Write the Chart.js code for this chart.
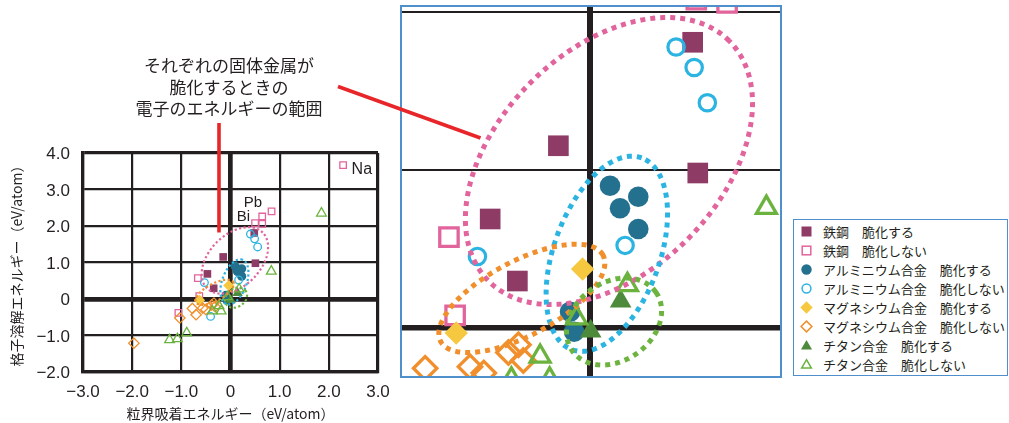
<!DOCTYPE html>
<html lang="ja">
<head>
<meta charset="utf-8">
<script src="https://cdn.jsdelivr.net/npm/chart.js@4.4.1/dist/chart.umd.min.js"></script>
<style>
  html, body { margin: 0; padding: 0; background: #fff; }
  #page { position: relative; width: 1009px; height: 423px; overflow: hidden;
          font-family: "Noto Sans CJK JP", "Noto Sans", sans-serif; color: #231f20; }
  #main { position: absolute; left: 0; top: 0; }
  #insetFrame { position: absolute; left: 400px; top: 5px; width: 378px; height: 369px;
                border: 2px solid #4f8fcc; }
  #inset { position: absolute; left: 0; top: 0; }
  #legend { position: absolute; left: 793px; top: 219px; width: 213px; height: 155px;
            border: 1.6px solid #4f8fcc; background: #fff; }
  .row { position: absolute; left: 0; height: 19px; width: 100%; }
  .row svg { position: absolute; left: 5px; top: 2px; }
  .row span { position: absolute; left: 29px; top: 0; font-size: 13px; line-height: 19px;
              white-space: pre; color: #231f20; }
  #note { position: absolute; left: 109px; top: 54px; width: 240px; text-align: center;
          font-size: 17px; line-height: 21.5px; color: #231f20; }
  #callouts { position: absolute; left: 0; top: 0; pointer-events: none; }
</style>
</head>
<body>
<div id="page">
  <canvas id="main" width="400" height="423"></canvas>
  <div id="insetFrame"><canvas id="inset" width="378" height="369"></canvas></div>
  <div id="legend"></div>
  <div id="note">それぞれの固体金属が<br>脆化するときの<br>電子のエネルギーの範囲</div>
  <svg id="callouts" width="1009" height="423">
    <line x1="219" y1="123" x2="219" y2="232.5" stroke="#e8262a" stroke-width="3.6"/>
    <line x1="338" y1="86.5" x2="480.5" y2="138" stroke="#e8262a" stroke-width="3.6"/>
  </svg>
</div>
<script>
// ---- series (x: 粒界吸着エネルギー, y: 格子溶解エネルギー, eV/atom) ----
const seriesNames = [
  '鉄鋼\u3000脆化する', '鉄鋼\u3000脆化しない',
  'アルミニウム合金\u3000脆化する', 'アルミニウム合金\u3000脆化しない',
  'マグネシウム合金\u3000脆化する', 'マグネシウム合金\u3000脆化しない',
  'チタン合金\u3000脆化する', 'チタン合金\u3000脆化しない'
];
const steelBrittle = [[0.483, 1.81], [-0.149, 1.153], [0.507, 0.98], [-0.47, 0.688], [-0.342, 0.294]];
const steelNonBrittle = [[-0.664, 0.573], [-0.635, 0.076], [-1.06, -0.38], [0.50, 2.08],
                         [0.645, 2.06], [0.645, 2.26], [0.835, 2.40], [2.29, 3.67]];
const aluminiumBrittle = [[0.094, 0.899], [0.227, 0.829], [0.141, 0.756], [0.227, 0.624],
                          [-0.094, 0.099], [-0.075, -0.028]];
const aluminiumNonBrittle = [[0.405, 1.78], [0.49, 1.65], [0.552, 1.426], [0.165, 0.52],
                             [-0.53, 0.45], [-0.405, -0.477]];
const magnesiumBrittle = [[-0.035, 0.37], [-0.63, -0.036]];
const magnesiumNonBrittle = [[-1.965, -1.21], [-1.03, -0.52], [-0.776, -0.26], [-0.70, -0.43],
                             [-0.565, -0.25], [-0.50, -0.29], [-0.384, -0.16], [-0.337, -0.11],
                             [-0.314, -0.21]];
const titaniumBrittle = [[0.144, 0.165], [0.003, -0.025]];
const titaniumNonBrittle = [[1.85, 2.35], [0.83, 0.76], [0.176, 0.27], [-0.063, 0.058],
                            [-0.235, -0.185], [-0.37, -0.33], [-0.19, -0.33], [-0.89, -0.93],
                            [-1.08, -1.09], [-1.24, -1.12]];
const seriesValues = [steelBrittle, steelNonBrittle, aluminiumBrittle, aluminiumNonBrittle,
                      magnesiumBrittle, magnesiumNonBrittle, titaniumBrittle, titaniumNonBrittle];

// element names attached to individual points
const pointNotes = [
  { text: 'Pb', series: 1, index: 5 },
  { text: 'Bi', series: 1, index: 3 },
  { text: 'Na', series: 1, index: 7 }
];

// embrittlement ranges: centre and two conjugate semi-diameters, in eV/atom
const rangeSteel = { center: [0.089, 1.056], u: [0.566, 0.763], v: [-0.369, 0.498] };
const rangeAluminium = { center: [0.079, 0.467], u: [0.164, 0.609], v: [-0.234, 0.115] };
const rangeMagnesium = { center: [-0.321, 0.184], u: [0.382, 0.274], v: [-0.082, 0.208] };
const rangeTitanium = { center: [0.113, 0.037], u: [0.197, 0.186], v: [-0.106, 0.204] };

// axes
const xAxisTicks = [-3, -2, -1, 0, 1, 2, 3];
const yAxisTicks = [-2, -1, 0, 1, 2, 3, 4];
const zoomX = [-0.885, 0.894];
const zoomY = [-0.309, 2.034];
const zoomGridX = [0];
const zoomGridY = [0, 1, 2];

// ---- styles ----
const INK = '#231f20';
const metalColors = {
  steel: ['#8e3b66', '#e2649d'],
  aluminium: ['#23708f', '#2bb4e2'],
  magnesium: ['#f6c83f', '#f08f2c'],
  titanium: ['#4d8a3b', '#6bb33e']
};
const seriesLook = [
  { shape: 'rect', filled: true, color: metalColors.steel[0] },
  { shape: 'rect', filled: false, color: metalColors.steel[1] },
  { shape: 'circle', filled: true, color: metalColors.aluminium[0] },
  { shape: 'circle', filled: false, color: metalColors.aluminium[1] },
  { shape: 'rectRot', filled: true, color: metalColors.magnesium[0] },
  { shape: 'rectRot', filled: false, color: metalColors.magnesium[1] },
  { shape: 'triangle', filled: true, color: metalColors.titanium[0] },
  { shape: 'triangle', filled: false, color: metalColors.titanium[1] }
];
const rangeLook = [
  [rangeSteel, metalColors.steel[1]],
  [rangeAluminium, metalColors.aluminium[1]],
  [rangeMagnesium, metalColors.magnesium[1]],
  [rangeTitanium, '#6db33f']
];
// marker radius / outline per shape, [filled, open]
const markerSizes = {
  overview: { rect: [[5.4, 0], [4.6, 1.3]], circle: [[4.6, 0], [3.8, 1.3]],
              rectRot: [[5.6, 0], [5.2, 1.3]], triangle: [[6.0, 0], [5.6, 1.3]] },
  detail:   { rect: [[14.6, 0], [13.0, 3.3]], circle: [[10.3, 0], [8.2, 3.2]],
              rectRot: [[11.7, 0], [11.7, 3.3]], triangle: [[12.5, 0], [11.5, 3.3]] }
};

function buildDatasets(sizeKey) {
  return seriesValues.map((vals, i) => {
    const look = seriesLook[i];
    const [r, bw] = markerSizes[sizeKey][look.shape][look.filled ? 0 : 1];
    return {
      label: seriesNames[i],
      data: vals.map(([x, y]) => ({ x, y })),
      pointStyle: look.shape,
      pointRadius: r,
      pointHoverRadius: r,
      pointBorderWidth: bw,
      pointBackgroundColor: look.filled ? look.color : 'rgba(0,0,0,0)',
      pointBorderColor: look.color,
      showLine: false,
      order: -i,
      clip: 0
    };
  });
}

const rangePlugin = {
  id: 'rangeOutlines',
  afterDatasetsDraw(chart, args, opts) {
    const { ctx, chartArea: a, scales: { x, y } } = chart;
    ctx.save();
    ctx.beginPath();
    ctx.rect(a.left, a.top, a.right - a.left, a.bottom - a.top);
    ctx.clip();
    ctx.lineWidth = opts.lineWidth;
    ctx.setLineDash(opts.dash);
    ctx.lineCap = 'butt';
    for (const [e, color] of rangeLook) {
      ctx.strokeStyle = color;
      ctx.beginPath();
      const n = 240;
      for (let k = 0; k <= n; k++) {
        const t = k / n * Math.PI * 2;
        const vx = e.center[0] + e.u[0] * Math.cos(t) + e.v[0] * Math.sin(t);
        const vy = e.center[1] + e.u[1] * Math.cos(t) + e.v[1] * Math.sin(t);
        const px = x.getPixelForValue(vx), py = y.getPixelForValue(vy);
        if (k === 0) ctx.moveTo(px, py); else ctx.lineTo(px, py);
      }
      ctx.stroke();
    }
    ctx.restore();
  }
};

const notePlugin = {
  id: 'pointNotes',
  afterDatasetsDraw(chart, args, opts) {
    if (!opts.enabled) return;
    const { ctx, scales: { x, y } } = chart;
    ctx.save();
    ctx.fillStyle = INK;
    ctx.textBaseline = 'middle';
    for (const n of pointNotes) {
      const [vx, vy] = seriesValues[n.series][n.index];
      const place = opts.place[n.text];
      ctx.font = place.size + 'px "Liberation Sans", Arial, sans-serif';
      ctx.textAlign = place.align;
      ctx.fillText(n.text, x.getPixelForValue(vx) + place.dx, y.getPixelForValue(vy) + place.dy);
    }
    ctx.restore();
  }
};

function fmtTick(v) {
  if (v === 0) return '0';
  return (v < 0 ? '\u2212' : '') + Math.abs(v).toFixed(1);
}

const gridWidth = (edges) => (c) => {
  const v = c.tick.value;
  if (v === 0) return 4.7;
  if (edges.includes(v)) return 3.2;
  return 2.2;
};

const tickFont = { family: '"Liberation Sans", Arial, sans-serif', size: 17 };

// overview chart
new Chart(document.getElementById('main'), {
  type: 'scatter',
  data: { datasets: buildDatasets('overview') },
  plugins: [rangePlugin, notePlugin],
  options: {
    responsive: false, animation: false, devicePixelRatio: 1,
    events: [],
    layout: { autoPadding: false, padding: { top: 153, right: 22, left: 0, bottom: 0 } },
    plugins: {
      legend: { display: false }, tooltip: { enabled: false },
      rangeOutlines: { lineWidth: 2.2, dash: [2.2, 2.4] },
      pointNotes: { enabled: true, place: {
        Pb: { dx: 0, dy: -13.5, align: 'right', size: 15 },
        Bi: { dx: -5, dy: -6.5, align: 'right', size: 15 },
        Na: { dx: 8.5, dy: 4.5, align: 'left', size: 16 }
      } }
    },
    scales: {
      x: {
        type: 'linear', min: xAxisTicks[0], max: xAxisTicks[xAxisTicks.length - 1],
        afterBuildTicks: s => { s.ticks = xAxisTicks.map(value => ({ value })); },
        afterFit: s => { s.height = 51; },
        ticks: { callback: fmtTick, color: INK, padding: 10, maxRotation: 0, autoSkip: false,
                 font: tickFont },
        grid: { color: INK, lineWidth: gridWidth([-3, 3]), drawTicks: false },
        border: { display: true, color: INK, width: 3.2 },
        title: { display: true, text: '粒界吸着エネルギー（eV/atom）', color: INK,
                 font: { family: '"Noto Sans CJK JP", sans-serif', size: 14 },
                 padding: { top: 0, bottom: 1 } }
      },
      y: {
        type: 'linear', min: yAxisTicks[0], max: yAxisTicks[yAxisTicks.length - 1],
        afterBuildTicks: s => { s.ticks = yAxisTicks.map(value => ({ value })); },
        afterFit: s => { s.width = 83; },
        ticks: { callback: fmtTick, color: INK, padding: 13, labelOffset: 1.5, autoSkip: false,
                 font: tickFont },
        grid: { color: INK, lineWidth: gridWidth([-2, 4]), drawTicks: false },
        border: { display: true, color: INK, width: 3.2 },
        title: { display: true, text: '格子溶解エネルギー（eV/atom）', color: INK,
                 font: { family: '"Noto Sans CJK JP", sans-serif', size: 14 },
                 padding: { top: 8.5, bottom: 0 } }
      }
    }
  }
});

// enlarged view of the cluster around the origin
new Chart(document.getElementById('inset'), {
  type: 'scatter',
  data: { datasets: buildDatasets('detail') },
  plugins: [rangePlugin],
  options: {
    responsive: false, animation: false, devicePixelRatio: 1,
    events: [],
    layout: { autoPadding: false, padding: 0 },
    plugins: {
      legend: { display: false }, tooltip: { enabled: false },
      rangeOutlines: { lineWidth: 5, dash: [5, 5] },
      pointNotes: { enabled: false }
    },
    scales: {
      x: {
        type: 'linear', min: zoomX[0], max: zoomX[1],
        afterBuildTicks: s => { s.ticks = zoomGridX.map(value => ({ value })); },
        afterFit: s => { s.height = 0; },
        ticks: { display: false },
        grid: { color: INK, lineWidth: 6, drawTicks: false },
        border: { display: false }
      },
      y: {
        type: 'linear', min: zoomY[0], max: zoomY[1],
        afterBuildTicks: s => { s.ticks = zoomGridY.map(value => ({ value })); },
        afterFit: s => { s.width = 0; },
        ticks: { display: false },
        grid: { color: INK, lineWidth: c => c.tick.value === 0 ? 5.5 : 2, drawTicks: false },
        border: { display: false }
      }
    }
  }
});

// legend
const legendBox = document.getElementById('legend');
const svgNS = 'http://www.w3.org/2000/svg';
seriesNames.forEach((name, i) => {
  const look = seriesLook[i];
  const row = document.createElement('div');
  row.className = 'row';
  row.style.top = (2 + i * 19.05) + 'px';
  const svg = document.createElementNS(svgNS, 'svg');
  svg.setAttribute('width', '15'); svg.setAttribute('height', '15');
  let el;
  const c = 7.5;
  if (look.shape === 'rect') {
    el = document.createElementNS(svgNS, 'rect');
    const s = look.filled ? 10 : 8.6;
    el.setAttribute('x', c - s / 2); el.setAttribute('y', c - s / 2);
    el.setAttribute('width', s); el.setAttribute('height', s);
  } else if (look.shape === 'circle') {
    el = document.createElementNS(svgNS, 'circle');
    el.setAttribute('cx', c); el.setAttribute('cy', c);
    el.setAttribute('r', look.filled ? 5.2 : 4.4);
  } else if (look.shape === 'rectRot') {
    el = document.createElementNS(svgNS, 'polygon');
    const r = look.filled ? 6.2 : 5.4;
    el.setAttribute('points', `${c},${c - r} ${c + r},${c} ${c},${c + r} ${c - r},${c}`);
  } else {
    el = document.createElementNS(svgNS, 'polygon');
    const r = look.filled ? 6.4 : 5.6;
    const pts = [0, 1, 2].map(k => {
      const a = -Math.PI / 2 + k * 2 * Math.PI / 3;
      return `${c + r * Math.cos(a)},${c + 0.8 + r * Math.sin(a)}`;
    });
    el.setAttribute('points', pts.join(' '));
  }
  if (look.filled) { el.setAttribute('fill', look.color); }
  else { el.setAttribute('fill', 'none'); el.setAttribute('stroke', look.color); el.setAttribute('stroke-width', '1.5'); }
  svg.appendChild(el);
  const label = document.createElement('span');
  label.textContent = name;
  row.appendChild(svg); row.appendChild(label);
  legendBox.appendChild(row);
});
</script>
</body>
</html>
